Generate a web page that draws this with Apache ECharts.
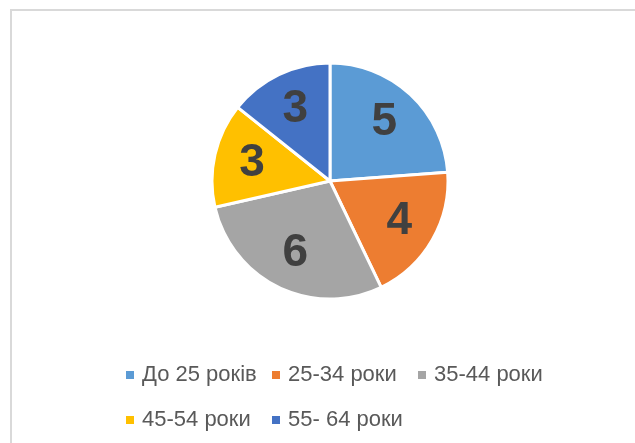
<!DOCTYPE html>
<html>
<head>
    <meta charset="utf-8">
    <title>Вік</title>
    <script src="https://cdn.jsdelivr.net/npm/echarts@6/dist/echarts.min.js"></script>
    <style>
        html, body { margin: 0; padding: 0; background: #fff; }
        #main { width: 635px; height: 443px; }
    </style>
</head>
<body>
<div id="main"></div>
<script type="text/javascript">
    // дані з діаграми
    var categories = ['До 25 років', '25-34 роки', '35-44 роки', '45-54 роки', '55- 64 роки'];
    var values = [5, 4, 6, 3, 3];
    var colors = ['#5B9BD5', '#ED7D31', '#A5A5A5', '#FFC000', '#4472C4'];

    var pieData = [];
    for (var i = 0; i < categories.length; i++) {
        pieData.push({ name: categories[i], value: values[i], itemStyle: { color: colors[i] } });
    }

    var myChart = echarts.init(document.getElementById('main'));
    var option = {
        animation: false,
        graphic: [{
            type: 'rect',
            shape: { x: 11, y: 10, width: 700, height: 500 },
            style: { fill: 'none', stroke: '#d9d9d9', lineWidth: 2 },
            silent: true
        }],
        legend: {
            data: categories,
            left: 126,
            top: 357,
            width: 440,
            padding: 0,
            itemGap: 9,
            itemWidth: 8,
            itemHeight: 8,
            icon: 'rect',
            selectedMode: false,
            itemStyle: { borderWidth: 0, borderColor: 'transparent' },
            textStyle: {
                fontFamily: 'Liberation Sans',
                fontSize: 22,
                color: '#595959',
                width: 121,
                lineHeight: 36,
                padding: [0, 0, 0, 3]
            }
        },
        series: [{
            // сам круг
            type: 'pie',
            center: [330, 181],
            radius: [0, 118],
            startAngle: 90,
            clockwise: true,
            itemStyle: { borderColor: '#fff', borderWidth: 3 },
            label: { show: false },
            labelLine: { show: false },
            emphasis: { disabled: true },
            data: pieData
        }, {
            // прозоре кільце лише для підписів значень
            type: 'pie',
            center: [330, 181],
            radius: [36, 118],
            startAngle: 90,
            clockwise: true,
            silent: true,
            itemStyle: { color: 'transparent' },
            label: {
                show: true,
                position: 'inside',
                formatter: '{c}',
                fontFamily: 'Liberation Sans',
                fontWeight: 'bold',
                fontSize: 46,
                color: '#404040'
            },
            labelLine: { show: false },
            emphasis: { disabled: true },
            data: values.map(function (v, i) { return { name: categories[i], value: v }; })
        }]
    };
    myChart.setOption(option);
</script>
</body>
</html>
